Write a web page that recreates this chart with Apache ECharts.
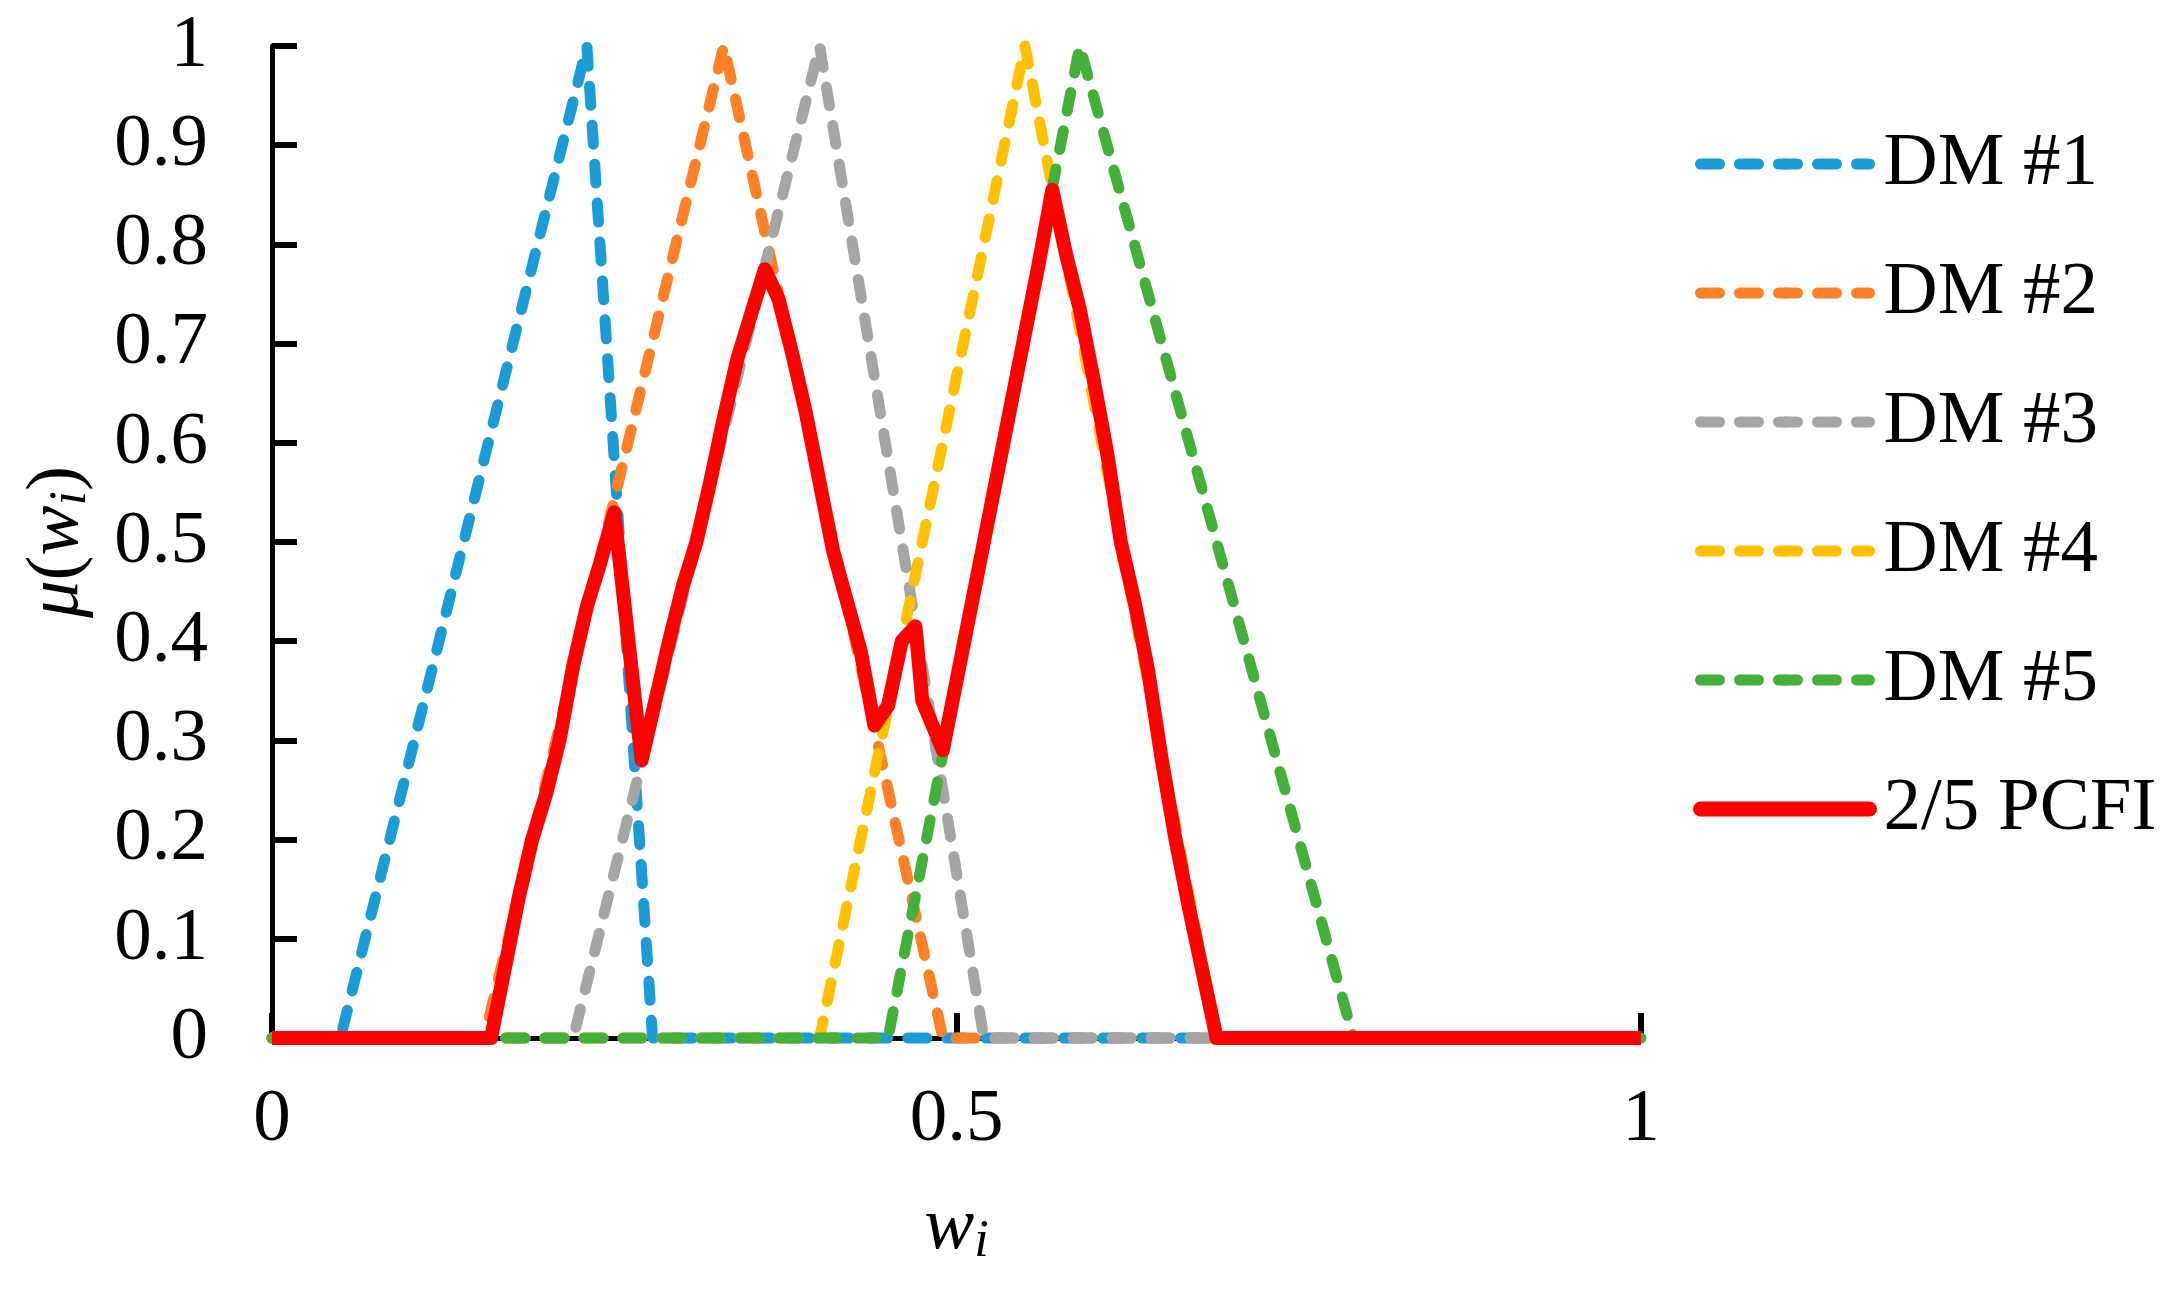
<!DOCTYPE html>
<html>
<head>
<meta charset="utf-8">
<script src="https://cdn.jsdelivr.net/npm/echarts@6/dist/echarts.min.js"></script>
<style>
html,body{margin:0;padding:0;background:#fff;}
#chart{width:2181px;height:1292px;}
</style>
</head>
<body>
<div id="chart"></div>
<script>
// ---- data ----
var seriesNames = ['DM #1', 'DM #2', 'DM #3', 'DM #4', 'DM #5', '2/5 PCFI'];
var dm1 = [[0, 0], [0.05, 0], [0.23, 1], [0.278, 0], [1, 0]];
var dm2 = [[0, 0], [0.155, 0], [0.33, 1], [0.49, 0], [1, 0]];
var dm3 = [[0, 0], [0.22, 0], [0.40, 1], [0.52, 0], [1, 0]];
var dm4 = [[0, 0], [0.40, 0], [0.55, 1], [0.69, 0], [1, 0]];
var dm5 = [[0, 0], [0.45, 0], [0.59, 1], [0.79, 0], [1, 0]];
var pcfi = [
  [0, 0], [0.16, 0], [0.17, 0.07], [0.18, 0.14], [0.19, 0.20], [0.20, 0.245],
  [0.21, 0.30], [0.22, 0.375], [0.23, 0.435], [0.24, 0.48], [0.25, 0.53],
  [0.27, 0.28], [0.28, 0.34], [0.29, 0.40], [0.30, 0.455], [0.31, 0.50],
  [0.32, 0.56], [0.33, 0.625], [0.34, 0.685], [0.35, 0.73], [0.36, 0.775],
  [0.37, 0.745], [0.38, 0.69], [0.39, 0.63], [0.40, 0.56], [0.41, 0.49],
  [0.42, 0.44], [0.43, 0.39], [0.44, 0.315], [0.45, 0.335], [0.46, 0.40],
  [0.47, 0.415], [0.475, 0.34], [0.49, 0.29], [0.50, 0.36], [0.51, 0.43],
  [0.52, 0.50], [0.53, 0.57], [0.54, 0.64], [0.55, 0.71], [0.56, 0.78],
  [0.57, 0.855], [0.58, 0.79], [0.59, 0.735], [0.60, 0.665], [0.61, 0.59],
  [0.62, 0.50], [0.63, 0.44], [0.64, 0.37], [0.65, 0.28], [0.66, 0.20],
  [0.67, 0.13], [0.68, 0.065], [0.69, 0], [1, 0]
];
var xTickValues = [0, 0.5, 1];
var xTickLabels = ['0', '0.5', '1'];
var yTickLabels = ['0', '0.1', '0.2', '0.3', '0.4', '0.5', '0.6', '0.7', '0.8', '0.9', '1'];
var colors = ['#1C9CD7', '#FF8026', '#A5A5A5', '#FFC000', '#44B03B', '#FF0000'];

// ---- chart ----
var FONT = '"Liberation Serif", "Times New Roman", serif';
var FS = 75;
var dash = [19, 20];
var dmData = [dm1, dm2, dm3, dm4, dm5];

var series = dmData.map(function (d, i) {
  return {
    name: seriesNames[i],
    type: 'line',
    data: d,
    symbol: 'none',
    clip: false,
    lineStyle: { color: colors[i], width: 11, type: dash, cap: 'round', join: 'round' },
    itemStyle: { color: colors[i] },
    z: 2 + i
  };
});
series.push({
  name: seriesNames[5],
  type: 'line',
  data: pcfi,
  symbol: 'none',
  clip: false,
  lineStyle: { color: colors[5], width: 14, type: 'solid', cap: 'butt', join: 'round' },
  itemStyle: { color: colors[5] },
  z: 10
});

var legendData = seriesNames.map(function (n, i) {
  return {
    name: n,
    lineStyle: i < 5
      ? { color: colors[i], width: 11, type: dash, cap: 'round' }
      : { color: colors[i], width: 15, type: 'solid', cap: 'round' }
  };
});

var option = {
  animation: false,
  backgroundColor: '#ffffff',
  grid: { left: 272, right: 540, top: 46, bottom: 254, containLabel: false },
  legend: {
    orient: 'vertical',
    left: 1699 - 11,
    top: 119,
    itemWidth: 169,
    itemHeight: 14,
    itemGap: 49,
    data: legendData,
    textStyle: { fontFamily: FONT, fontSize: FS, color: '#000', lineHeight: 80, padding: [0, 0, 0, 9] }
  },
  xAxis: {
    type: 'value',
    min: 0,
    max: 1,
    interval: 0.5,
    axisLine: { show: true, lineStyle: { color: '#000', width: 5 } },
    axisTick: { show: true, inside: true, length: 25, lineStyle: { color: '#000', width: 6 } },
    axisLabel: {
      margin: 45,
      color: '#000',
      fontFamily: FONT,
      fontSize: FS,
      formatter: function (v) {
        var idx = xTickValues.indexOf(Math.round(v * 10) / 10);
        return idx >= 0 ? xTickLabels[idx] : '';
      }
    },
    splitLine: { show: false },
    name: '{w|w}{s|i}',
    nameLocation: 'middle',
    nameGap: 150,
    nameTextStyle: {
      rich: {
        w: { fontFamily: FONT, fontStyle: 'italic', fontSize: FS, color: '#000', lineHeight: 80 },
        s: { fontFamily: FONT, fontStyle: 'italic', fontSize: 52, color: '#000', lineHeight: 52, verticalAlign: 'bottom' }
      }
    }
  },
  yAxis: {
    type: 'value',
    min: 0,
    max: 1,
    interval: 0.1,
    axisLine: { show: true, lineStyle: { color: '#000', width: 5 } },
    axisTick: { show: true, inside: true, length: 25, lineStyle: { color: '#000', width: 6 } },
    axisLabel: {
      margin: 64,
      color: '#000',
      fontFamily: FONT,
      fontSize: FS,
      formatter: function (v) { return yTickLabels[Math.round(v * 10)]; }
    },
    splitLine: { show: false },
    name: '{m|μ}{p|(}{w|w}{s|i}{p|)}',
    nameLocation: 'middle',
    nameRotate: 90,
    nameGap: 175,
    nameTextStyle: {
      rich: {
        m: { fontFamily: FONT, fontStyle: 'italic', fontSize: FS, color: '#000', lineHeight: 80 },
        p: { fontFamily: FONT, fontSize: FS, color: '#000', lineHeight: 80 },
        w: { fontFamily: FONT, fontStyle: 'italic', fontSize: FS, color: '#000', lineHeight: 80 },
        s: { fontFamily: FONT, fontStyle: 'italic', fontSize: 52, color: '#000', lineHeight: 52, verticalAlign: 'bottom' }
      }
    }
  },
  series: series
};

var chart = echarts.init(document.getElementById('chart'), null, { renderer: 'canvas' });
chart.setOption(option);
</script>
</body>
</html>
